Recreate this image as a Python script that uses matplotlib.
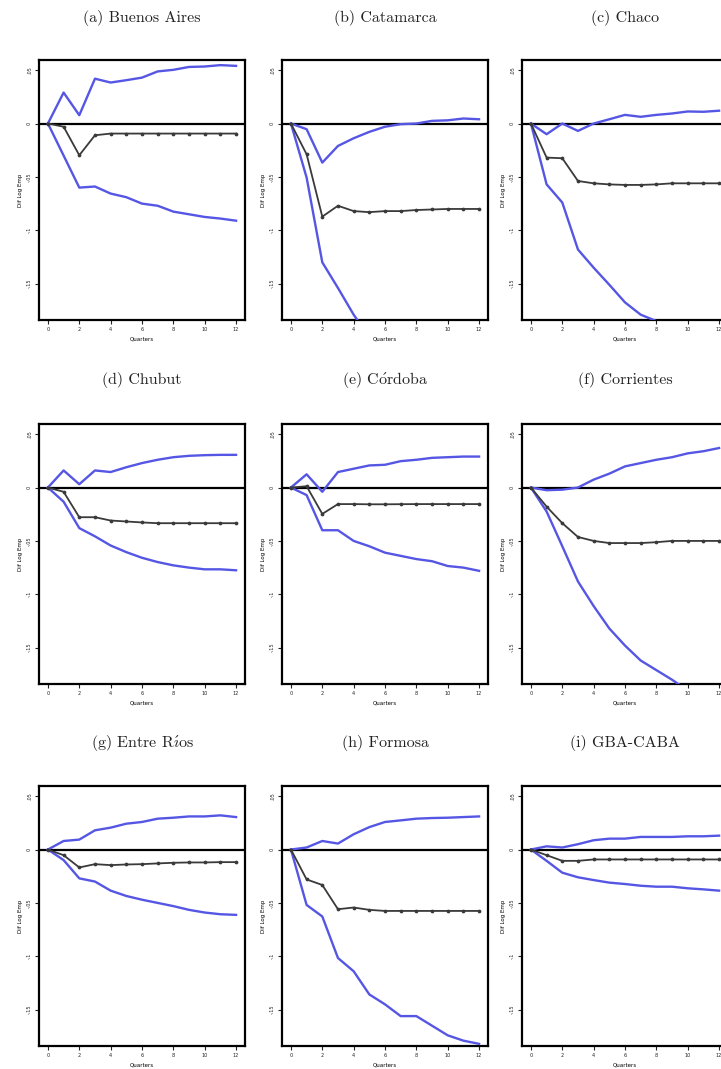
import matplotlib
matplotlib.use("Agg")
import matplotlib.pyplot as plt
import numpy as np

plt.rcParams["mathtext.fontset"] = "cm"

# quarters after the shock
quarters = list(range(13))

titles = ["(a) Buenos Aires", "(b) Catamarca", "(c) Chaco",
          "(d) Chubut", "(e) Córdoba", "(f) Corrientes",
          "(g) Entre Ríos", "(h) Formosa", "(i) GBA-CABA"]

# point estimate (black) and 95% bands (blue)
est_a = [0, -0.003, -0.0297, -0.011, -0.0094, -0.0094, -0.0094, -0.0094, -0.0094, -0.0094, -0.0094, -0.0094, -0.0094]
hi_a = [0, 0.029, 0.0078, 0.042, 0.0384, 0.0406, 0.043, 0.0488, 0.0503, 0.053, 0.0534, 0.0547, 0.054]
lo_a = [0, -0.030, -0.060, -0.059, -0.0656, -0.069, -0.075, -0.077, -0.0825, -0.085, -0.0875, -0.089, -0.091]

est_b = [0, -0.0288, -0.0872, -0.077, -0.082, -0.083, -0.082, -0.082, -0.081, -0.0805, -0.080, -0.080, -0.080]
hi_b = [0, -0.0053, -0.0366, -0.021, -0.0138, -0.0078, -0.003, -0.0006, 0, 0.0025, 0.003, 0.0047, 0.004]
lo_b = [0, -0.0506, -0.130, -0.154, -0.179, -0.200, -0.220, -0.238, -0.252, -0.265, -0.275, -0.284, -0.292]

est_c = [0, -0.0319, -0.0325, -0.0538, -0.056, -0.057, -0.0575, -0.0575, -0.057, -0.056, -0.056, -0.056, -0.056]
hi_c = [0, -0.010, 0, -0.0069, 0, 0.004, 0.0081, 0.0063, 0.0081, 0.0094, 0.0113, 0.011, 0.012]
lo_c = [0, -0.057, -0.074, -0.118, -0.135, -0.151, -0.1675, -0.179, -0.185, -0.195, -0.205, -0.214, -0.222]

est_d = [0, -0.004, -0.0278, -0.0278, -0.0309, -0.0318, -0.0327, -0.0334, -0.0334, -0.0334, -0.0334, -0.0334, -0.0334]
hi_d = [0, 0.016, 0.0031, 0.016, 0.0145, 0.019, 0.0229, 0.026, 0.0284, 0.0297, 0.0303, 0.0306, 0.0306]
lo_d = [0, -0.0133, -0.038, -0.0457, -0.0543, -0.0605, -0.0658, -0.0698, -0.0729, -0.075, -0.0766, -0.0766, -0.0775]

est_e = [0, 0.0012, -0.0247, -0.0155, -0.0155, -0.0157, -0.0157, -0.0156, -0.0155, -0.0155, -0.0155, -0.0155, -0.0155]
hi_e = [0, 0.0124, -0.004, 0.0145, 0.0176, 0.0207, 0.0213, 0.0247, 0.026, 0.0278, 0.0284, 0.029, 0.029]
lo_e = [0, -0.0071, -0.040, -0.040, -0.050, -0.055, -0.061, -0.064, -0.067, -0.069, -0.0735, -0.075, -0.078]

est_f = [0, -0.0179, -0.0334, -0.0463, -0.050, -0.052, -0.052, -0.052, -0.0512, -0.050, -0.050, -0.050, -0.050]
hi_f = [0, -0.0025, -0.002, 0, 0.0074, 0.013, 0.0198, 0.0229, 0.026, 0.0284, 0.032, 0.034, 0.037]
lo_f = [0, -0.0225, -0.055, -0.088, -0.111, -0.132, -0.148, -0.162, -0.171, -0.180, -0.190, -0.198, -0.205]

est_g = [0, -0.0053, -0.0168, -0.0137, -0.0146, -0.014, -0.0137, -0.013, -0.0124, -0.0121, -0.0121, -0.0118, -0.0118]
hi_g = [0, 0.008, 0.0093, 0.018, 0.0205, 0.0242, 0.0258, 0.0289, 0.0298, 0.031, 0.031, 0.032, 0.0304]
lo_g = [0, -0.0099, -0.027, -0.030, -0.0385, -0.0435, -0.047, -0.050, -0.053, -0.0565, -0.059, -0.0606, -0.0612]

est_h = [0, -0.028, -0.0332, -0.0559, -0.0543, -0.0565, -0.0575, -0.0575, -0.0575, -0.0575, -0.0575, -0.0575, -0.0575]
hi_h = [0, 0.0019, 0.008, 0.0056, 0.0143, 0.021, 0.0258, 0.0273, 0.0289, 0.0295, 0.0298, 0.0304, 0.031]
lo_h = [0, -0.0519, -0.0627, -0.1016, -0.114, -0.1357, -0.145, -0.156, -0.156, -0.165, -0.174, -0.179, -0.182]

est_i = [0, -0.0053, -0.0106, -0.0106, -0.0093, -0.0093, -0.0093, -0.0093, -0.0093, -0.0093, -0.0093, -0.0093, -0.0093]
hi_i = [0, 0.003, 0.0019, 0.005, 0.0087, 0.0102, 0.0102, 0.0118, 0.0118, 0.0118, 0.0124, 0.0124, 0.013]
lo_i = [0, -0.0106, -0.0217, -0.026, -0.0286, -0.031, -0.0323, -0.0339, -0.0348, -0.0348, -0.0363, -0.0373, -0.0385]

estimates = [est_a, est_b, est_c, est_d, est_e, est_f, est_g, est_h, est_i]
uppers = [hi_a, hi_b, hi_c, hi_d, hi_e, hi_f, hi_g, hi_h, hi_i]
lowers = [lo_a, lo_b, lo_c, lo_d, lo_e, lo_f, lo_g, lo_h, lo_i]

y_ticks = [0.05, 0, -0.05, -0.1, -0.15]
y_tick_labels = [".05", "0", "-.05", "-.1", "-.15"]
x_ticks = [0, 2, 4, 6, 8, 10, 12]

W, H = 721, 1069
fig = plt.figure(figsize=(W / 100, H / 100), dpi=100)

# panel boxes in pixels: left, top, width, height
col_left = [39, 282, 522]
row_top = [60, 424, 786]
box_w = 206
box_h = 260
title_y = [18, 380, 743]

blue = "#5656e4"


def tex_accents(s):
    # cmr10 has no accented glyphs, so build them with mathtext
    return s.replace("ó", r"$\acute{\mathrm{o}}$").replace("í", r"$\acute{\mathrm{\imath}}$")


for k in range(9):
    r, c = divmod(k, 3)
    l, t = col_left[c], row_top[r]
    ax = fig.add_axes([l / W, 1 - (t + box_h) / H, box_w / W, box_h / H])

    ax.axhline(0, color="black", lw=1.6, zorder=2)
    ax.plot(quarters, uppers[k], color=blue, lw=1.7, zorder=3)
    ax.plot(quarters, lowers[k], color=blue, lw=1.7, zorder=3)
    ax.plot(quarters, estimates[k], color="#3a3a3a", lw=1.3, marker="o",
            ms=1.7, zorder=4)

    ax.set_xlim(-0.57, 12.57)
    ax.set_ylim(-0.184, 0.0595)
    ax.set_xticks(x_ticks)
    ax.set_xticklabels([str(v) for v in x_ticks], fontsize=3.5)
    ax.set_yticks(y_ticks)
    ax.set_yticklabels(y_tick_labels, fontsize=3.5, rotation=90, va="center")
    ax.tick_params(length=3, width=0.8, pad=2, colors="#222222")
    for s in ax.spines.values():
        s.set_linewidth(1.6)
    ax.set_xlabel("Quarters", fontsize=4, labelpad=3)
    ax.set_ylabel("Dif Log Emp", fontsize=4, labelpad=3)

    fig.text((l + box_w / 2) / W, 1 - title_y[r] / H, tex_accents(titles[k]),
             ha="center", va="center", fontsize=11.5,
             family="cmr10", color="#222222")

fig.savefig("out.png", dpi=100)
